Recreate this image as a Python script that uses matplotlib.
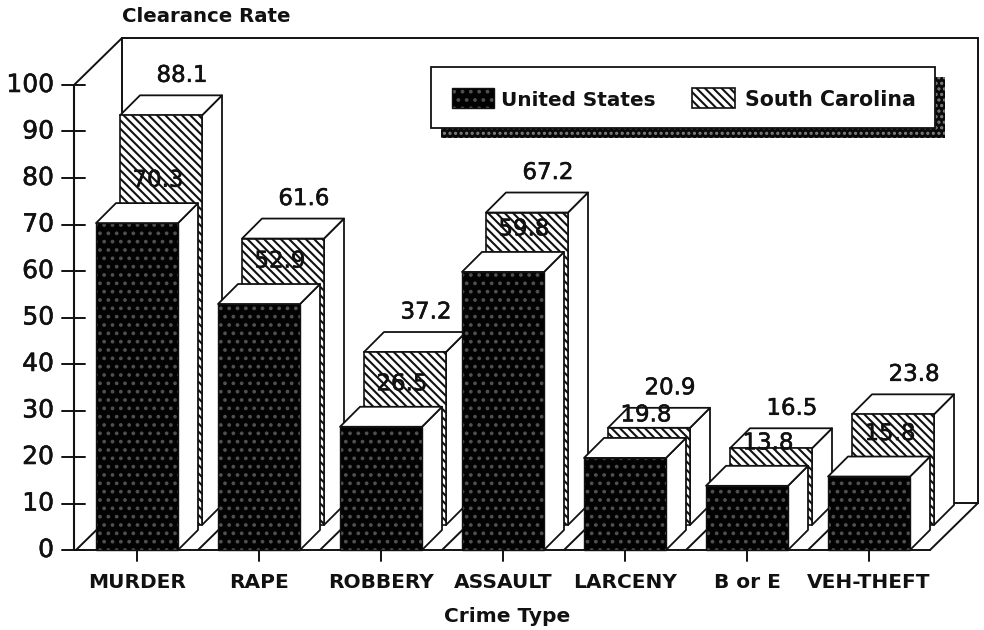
import matplotlib
matplotlib.use("Agg")
import matplotlib.pyplot as plt
from matplotlib.patches import Polygon, Rectangle
import matplotlib.patheffects as pe

categories = ['MURDER', 'RAPE', 'ROBBERY', 'ASSAULT', 'LARCENY', 'B or E', 'VEH-THEFT']
us_values = [70.3, 52.9, 26.5, 59.8, 19.8, 13.8, 15.8]
sc_values = [88.1, 61.6, 37.2, 67.2, 20.9, 16.5, 23.8]
y_ticks = list(range(0, 101, 10))

# pixel scale of the page, used to set the axes limits
X_UNIT = 122.0
Y_UNIT = 4.65
X0 = 137.0
Y0 = 550.0
W, H = 984, 630

# oblique offsets, in data units
half = 41 / X_UNIT
top_dx, top_dy = 20 / X_UNIT, 20 / Y_UNIT
sc_dx, sc_dy = 24 / X_UNIT, 25 / Y_UNIT
wall_dx, wall_dy = 48 / X_UNIT, 47 / Y_UNIT
left = -0.5 - 2 / X_UNIT
right = 6.5

FONT = 'DejaVu Sans'
INK = '#111111'
plt.rcParams['hatch.linewidth'] = 1.5

fig = plt.figure(figsize=(W / 100, H / 100), dpi=100)
ax = fig.add_axes([0, 0, 1, 1])
ax.set_xlim(-X0 / X_UNIT, (W - X0) / X_UNIT)
ax.set_ylim((Y0 - H) / Y_UNIT, Y0 / Y_UNIT)
ax.axis('off')


def poly(pts, z, **kw):
    kw.setdefault('facecolor', 'white')
    kw.setdefault('edgecolor', INK)
    kw.setdefault('linewidth', 1.3)
    ax.add_patch(Polygon(pts, closed=True, zorder=z, joinstyle='round', **kw))


def line(xs, ys, z=1, lw=1.4):
    ax.plot(xs, ys, color=INK, lw=lw, zorder=z, solid_capstyle='round')


def speckle(x, y, w, h, z):
    ax.add_patch(Rectangle((x, y), w, h, facecolor='#020202', edgecolor='#505050',
                           hatch='..', linewidth=0, zorder=z))
    ax.add_patch(Rectangle((x, y), w, h, facecolor='none', edgecolor=INK,
                           linewidth=1.0, zorder=z))


def stripes(x, y, w, h, z):
    ax.add_patch(Rectangle((x, y), w, h, facecolor='white', edgecolor=INK,
                           hatch='\\\\\\\\', linewidth=0, zorder=z))
    ax.add_patch(Rectangle((x, y), w, h, facecolor='none', edgecolor=INK,
                           linewidth=1.2, zorder=z))


def bar3d(x, val, face, z):
    # side and top first, the front goes over them
    poly([(x + half, 0), (x + half + top_dx, top_dy), (x + half + top_dx, val + top_dy), (x + half, val)], z)
    poly([(x - half, val), (x - half + top_dx, val + top_dy), (x + half + top_dx, val + top_dy), (x + half, val)], z)
    face(x - half, 0, 2 * half, val, z + 0.1)


# walls and floor
line([left, left + wall_dx], [100, 100 + wall_dy])
line([left + wall_dx, left + wall_dx], [wall_dy, 100 + wall_dy])
line([left + wall_dx, right + wall_dx], [100 + wall_dy, 100 + wall_dy])
line([right + wall_dx, right + wall_dx], [wall_dy, 100 + wall_dy])
line([left + wall_dx, right + wall_dx], [wall_dy, wall_dy])
line([left, right], [0, 0])
for i in range(len(categories) + 1):
    b = i - 0.5
    line([b, b + wall_dx], [0, wall_dy])
    if i < len(categories):
        line([i, i], [0, -11 / Y_UNIT])

# y axis
line([left, left], [0, 100], z=1, lw=1.5)
stroke = [pe.withStroke(linewidth=0.4, foreground=INK)]
for t in y_ticks:
    line([left - 12 / X_UNIT, left + 11 / X_UNIT], [t, t], z=1, lw=1.4)
    ax.text(left - 20 / X_UNIT, t, str(t), ha='right', va='center', family=FONT,
            fontsize=18, color=INK, path_effects=stroke)

# bars, back row first
for i in range(len(categories)):
    sx = i + sc_dx
    bar_z = 3 + i * 0.01
    poly([(sx + half, sc_dy), (sx + half + top_dx, sc_dy + top_dy),
          (sx + half + top_dx, sc_values[i] + sc_dy + top_dy), (sx + half, sc_values[i] + sc_dy)], bar_z)
    poly([(sx - half, sc_values[i] + sc_dy), (sx - half + top_dx, sc_values[i] + sc_dy + top_dy),
          (sx + half + top_dx, sc_values[i] + sc_dy + top_dy), (sx + half, sc_values[i] + sc_dy)], bar_z)
    stripes(sx - half, sc_dy, 2 * half, sc_values[i], bar_z + 0.001)
for i in range(len(categories)):
    bar3d(i, us_values[i], speckle, 5 + i * 0.01)

# value labels
for i in range(len(categories)):
    ax.text(i + 45 / X_UNIT, sc_values[i] + sc_dy + top_dy + 20 / Y_UNIT, f'{sc_values[i]}', ha='center', va='center',
            family=FONT, fontsize=16.5, color=INK, zorder=8, path_effects=stroke)
    ax.text(i + 21 / X_UNIT, us_values[i] + top_dy + 23 / Y_UNIT, f'{us_values[i]}', ha='center', va='center',
            family=FONT, fontsize=16.5, color=INK, zorder=4, path_effects=stroke)

# category and axis titles
for i, c in enumerate(categories):
    ax.text(i, -33 / Y_UNIT, c, ha='center', va='center', family=FONT,
            fontweight='bold', fontsize=14.5, color=INK)
ax.text(3.03, -67 / Y_UNIT, 'Crime Type', ha='center', va='center', family=FONT,
        fontweight='bold', fontsize=14.5, color=INK)
ax.text(left + 48 / X_UNIT, 114.8, 'Clearance Rate', ha='left', va='center', family=FONT,
        fontweight='bold', fontsize=14.2, color=INK)

# legend box with its shadow
bx0 = (431 - X0) / X_UNIT
bw = 504 / X_UNIT
by0 = (Y0 - 128) / Y_UNIT
bh = 61 / Y_UNIT
ax.add_patch(Rectangle((bx0 + 10 / X_UNIT, by0 - 10 / Y_UNIT), bw, bh, facecolor='#0a0a0a',
                       edgecolor='#808080', hatch='...', linewidth=0, zorder=9))
ax.add_patch(Rectangle((bx0, by0), bw, bh, facecolor='white', edgecolor=INK, linewidth=1.3, zorder=10))
ly = by0 + bh / 2
speckle(bx0 + 21 / X_UNIT, ly - 10 / Y_UNIT, 42 / X_UNIT, 20 / Y_UNIT, 11)
stripes(bx0 + 261 / X_UNIT, ly - 10 / Y_UNIT, 43 / X_UNIT, 20 / Y_UNIT, 11)
ax.text(bx0 + 70 / X_UNIT, ly - 3 / Y_UNIT, 'United States', ha='left', va='center', family=FONT,
        fontweight='bold', fontsize=14.4, color=INK, zorder=12)
ax.text(bx0 + 314 / X_UNIT, ly - 3 / Y_UNIT, 'South Carolina', ha='left', va='center', family=FONT,
        fontweight='bold', fontsize=14.8, color=INK, zorder=12)

fig.savefig('out.png', dpi=100, facecolor='white')
